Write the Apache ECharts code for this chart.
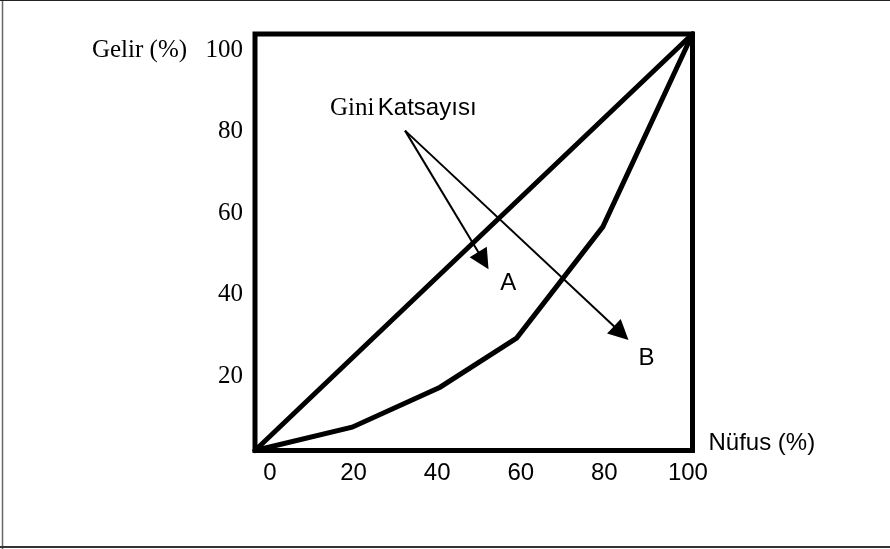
<!DOCTYPE html>
<html>
<head>
<meta charset="utf-8">
<script src="https://cdn.jsdelivr.net/npm/echarts@6/dist/echarts.min.js"></script>
<style>
html,body{margin:0;padding:0;background:#fff;}
#chart{width:890px;height:549px;}
</style>
</head>
<body>
<div id="chart"></div>
<script>
// ---- data ----
var xTicks = [0, 20, 40, 60, 80, 100];
var yTicks = [20, 40, 60, 80, 100];
var equality = [[0, 0], [100, 100]];
var lorenz = [[0, 0], [22.2, 5.6], [42.3, 15.2], [59.8, 27.0], [79.5, 53.7], [100, 100]];
var arrowStart = [34.3, 76.8];
var arrowEnds = [[52.2, 45.6], [83.7, 28.2]];
var pointLabels = [
  { name: 'A', value: [57.9, 40.1] },
  { name: 'B', value: [89.5, 22.1] }
];
var giniLabel = { name: 'Gini Katsayısı', value: [33.9, 82.2] };
var xName = 'Nüfus (%)';
var yName = 'Gelir (%)';

var chart = echarts.init(document.getElementById('chart'), null, { renderer: 'canvas' });
var sans = 'Liberation Sans';
var serif = 'Liberation Serif';

var option = {
  animation: false,
  backgroundColor: '#fff',
  grid: {
    left: 255, top: 34, width: 437.5, height: 416.5,
    show: true, borderColor: '#000', borderWidth: 5, backgroundColor: 'transparent'
  },
  xAxis: [
    { type: 'value', min: 0, max: 100, show: false },
    {
      type: 'value', min: -3.6, max: 101.1, position: 'bottom',
      axisLine: { show: false }, axisTick: { show: false }, splitLine: { show: false },
      axisLabel: { customValues: xTicks, fontFamily: sans, fontSize: 24, color: '#000', margin: 11 },
      name: xName, nameLocation: 'end', nameGap: 16,
      nameTextStyle: { fontFamily: sans, fontSize: 24, color: '#000', align: 'left', verticalAlign: 'bottom', lineHeight: 14 }
    }
  ],
  yAxis: [
    { type: 'value', min: 0, max: 100, show: false },
    {
      type: 'value', min: 1.7, max: 104.05, position: 'left',
      axisLine: { show: false }, axisTick: { show: false }, splitLine: { show: false },
      axisLabel: { customValues: yTicks, fontFamily: serif, fontSize: 25, color: '#000', margin: 12 },
      name: yName, nameLocation: 'end', nameGap: -16,
      nameTextStyle: { fontFamily: serif, fontSize: 25, color: '#000', align: 'right', verticalAlign: 'middle', padding: [0, 83, 0, 0] }
    }
  ],
  graphic: [
    { type: 'line', shape: { x1: 2.5, y1: 0, x2: 2.5, y2: 549 }, style: { stroke: '#666', lineWidth: 1.5 } },
    { type: 'line', shape: { x1: 0, y1: 0.5, x2: 890, y2: 0.5 }, style: { stroke: '#222', lineWidth: 1.2 } },
    { type: 'line', shape: { x1: 0, y1: 547, x2: 890, y2: 547 }, style: { stroke: '#333', lineWidth: 2 } }
  ],
  series: [
    {
      type: 'line', xAxisIndex: 0, yAxisIndex: 0, data: equality, symbol: 'none',
      lineStyle: { color: '#000', width: 5, cap: 'round' }, clip: false, z: 3
    },
    {
      type: 'line', xAxisIndex: 0, yAxisIndex: 0, data: lorenz, symbol: 'none',
      lineStyle: { color: '#000', width: 5, cap: 'round', join: 'miter' }, clip: false, z: 3
    },
    {
      type: 'lines', coordinateSystem: 'cartesian2d', xAxisIndex: 0, yAxisIndex: 0,
      symbol: ['none', 'triangle'], symbolSize: [13, 20],
      lineStyle: { color: '#000', width: 2, opacity: 1 },
      data: arrowEnds.map(function (e) { return { coords: [arrowStart, e] }; }),
      z: 4
    },
    {
      type: 'scatter', xAxisIndex: 0, yAxisIndex: 0, symbolSize: 0,
      itemStyle: { opacity: 1, color: '#000' },
      data: pointLabels,
      label: { show: true, position: 'inside', formatter: '{b}', fontFamily: sans, fontSize: 24, color: '#000', opacity: 1, textBorderWidth: 0 },
      z: 5
    },
    {
      type: 'scatter', xAxisIndex: 0, yAxisIndex: 0, symbolSize: 0,
      itemStyle: { opacity: 1, color: '#000' },
      data: [giniLabel],
      label: {
        show: true, position: 'inside', opacity: 1, textBorderWidth: 0,
        formatter: function (p) { var parts = p.name.split(' '); return '{s|' + parts[0] + '} {k|' + parts[1] + '}'; },
        rich: {
          s: { fontFamily: serif, fontSize: 25, color: '#000', textBorderWidth: 0 },
          k: { fontFamily: sans, fontSize: 24, color: '#000', textBorderWidth: 0 }
        }
      },
      z: 5
    }
  ]
};
chart.setOption(option);
</script>
</body>
</html>
